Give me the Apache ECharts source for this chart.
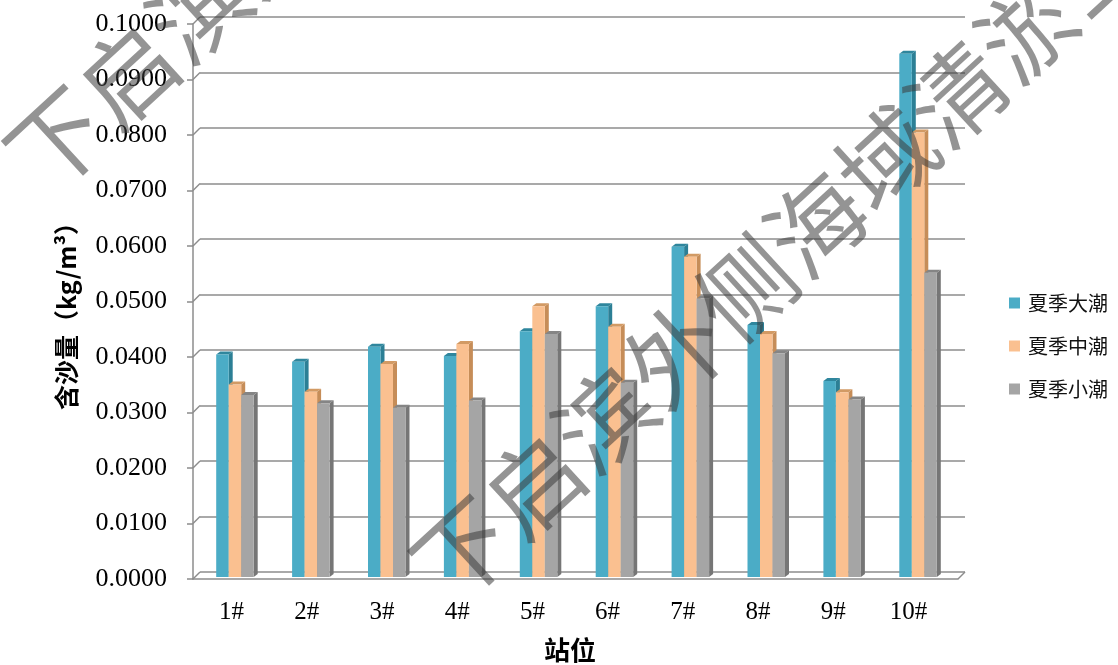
<!DOCTYPE html>
<html>
<head>
<meta charset="utf-8">
<script src="https://cdn.jsdelivr.net/npm/echarts@6/dist/echarts.min.js"></script>
<style>
  html, body { margin: 0; padding: 0; background: #ffffff; }
  #chart { width: 1118px; height: 665px; }
</style>
</head>
<body>
<div id="chart"></div>
<script>
// Stations and suspended sediment concentration (kg/m³) per tide
const stations = ['1#', '2#', '3#', '4#', '5#', '6#', '7#', '8#', '9#', '10#'];
const seriesNames = ['夏季大潮', '夏季中潮', '夏季小潮'];
const springTide = [0.0401, 0.0388, 0.0415, 0.0398, 0.0443, 0.0488, 0.0595, 0.0454, 0.0353, 0.0943];
const middleTide = [0.0347, 0.0334, 0.0384, 0.0420, 0.0488, 0.0451, 0.0577, 0.0438, 0.0333, 0.0801];
const neapTide   = [0.0328, 0.0313, 0.0305, 0.0318, 0.0438, 0.0350, 0.0502, 0.0403, 0.0320, 0.0548];
const yTicks = [0, 0.01, 0.02, 0.03, 0.04, 0.05, 0.06, 0.07, 0.08, 0.09, 0.1];

const frontColors = ['#4BACC6', '#FAC090', '#A5A5A5'];
const sideColors  = ['#2C7F95', '#C68D58', '#767676'];
const topColors   = ['#2F869D', '#D29A64', '#858585'];

const BAR_W = 12.5;   // front face width of one column
const DEPTH_X = 4;    // column depth offset
const DEPTH_Y = 3;
const WALL_X = 7;     // wall/floor depth offset
const WALL_Y = 7;

const serifFont = '"Liberation Serif", "Times New Roman", serif';
const cjkFont = '"Noto Sans CJK SC", "Noto Sans", sans-serif';

function columnRenderer(k) {
  return function (params, api) {
    const idx = api.value(0);
    const val = api.value(1);
    const topPt = api.coord([idx, val]);
    const basePt = api.coord([idx, 0]);
    const x0 = topPt[0] + (k - 1.5) * BAR_W;
    const yT = topPt[1];
    const yB = basePt[1];
    return {
      type: 'group',
      children: [
        {
          type: 'polygon',
          shape: { points: [[x0 + BAR_W, yT], [x0 + BAR_W + DEPTH_X, yT - DEPTH_Y], [x0 + BAR_W + DEPTH_X, yB - DEPTH_Y], [x0 + BAR_W, yB]] },
          style: { fill: sideColors[k] }
        },
        {
          type: 'polygon',
          shape: { points: [[x0, yT], [x0 + BAR_W, yT], [x0 + BAR_W + DEPTH_X, yT - DEPTH_Y], [x0 + DEPTH_X, yT - DEPTH_Y]] },
          style: { fill: topColors[k] }
        },
        {
          type: 'rect',
          shape: { x: x0, y: yT, width: BAR_W, height: yB - yT },
          style: { fill: frontColors[k] }
        }
      ]
    };
  };
}

// Short slanted edges joining the front axis ticks to the back-wall gridlines
function wallRenderer(params, api) {
  const v = api.value(0);
  const p = api.coord([0, v]);
  const x = params.coordSys.x;
  const children = [{
    type: 'line',
    shape: { x1: x, y1: p[1], x2: x + WALL_X, y2: p[1] - WALL_Y },
    style: { stroke: '#8c8c8c', lineWidth: 1.5 }
  }];
  if (v === 0) {
    const xr = params.coordSys.x + params.coordSys.width;
    children.push({
      type: 'line',
      shape: { x1: xr, y1: p[1], x2: xr + WALL_X, y2: p[1] - WALL_Y },
      style: { stroke: '#8c8c8c', lineWidth: 1.5 }
    });
  }
  return { type: 'group', children: children };
}

const chart = echarts.init(document.getElementById('chart'), null, { renderer: 'canvas' });

const option = {
  animation: false,
  color: frontColors,
  grid: [
    { left: 197, top: 22, width: 759, height: 555 },   // columns
    { left: 193, top: 24, width: 765, height: 555 },   // front axis lines
    { left: 200, top: 17, width: 765, height: 555 },   // back wall gridlines
    { left: 194, top: 24, width: 752, height: 555 }    // category labels
  ],
  xAxis: [
    { gridIndex: 0, type: 'category', data: stations, show: false },
    {
      gridIndex: 1, type: 'category', data: stations,
      axisLine: { show: true, lineStyle: { color: '#8c8c8c', width: 1.5 } },
      axisTick: { show: false }, axisLabel: { show: false }, splitLine: { show: false }
    },
    { gridIndex: 2, type: 'category', data: stations, show: false },
    {
      gridIndex: 3, type: 'category', data: stations,
      axisLine: { show: false }, axisTick: { show: false }, splitLine: { show: false },
      axisLabel: { margin: 21, color: '#000', fontFamily: serifFont, fontSize: 25 }
    }
  ],
  yAxis: [
    { gridIndex: 0, type: 'value', min: 0, max: 0.1, interval: 0.01, show: false },
    {
      gridIndex: 1, type: 'value', min: 0, max: 0.1, interval: 0.01,
      axisLine: { show: true, lineStyle: { color: '#8c8c8c', width: 1.5 } },
      axisTick: { show: true, length: 6, lineStyle: { color: '#8c8c8c', width: 1.5 } },
      splitLine: { show: false },
      axisLabel: {
        margin: 26, color: '#000', fontFamily: serifFont, fontSize: 26,
        formatter: function (v) { return v.toFixed(4); }
      }
    },
    {
      gridIndex: 2, type: 'value', min: 0, max: 0.1, interval: 0.01,
      axisLine: { show: false }, axisTick: { show: false }, axisLabel: { show: false },
      splitLine: { show: true, lineStyle: { color: '#8c8c8c', width: 1.6 } }
    },
    { gridIndex: 3, type: 'value', min: 0, max: 0.1, show: false }
  ],
  legend: {
    orient: 'vertical',
    left: 1004,
    top: 288,
    itemWidth: 11,
    itemHeight: 11,
    itemGap: 23,
    icon: 'rect',
    data: seriesNames,
    textStyle: { fontFamily: cjkFont, fontSize: 20, lineHeight: 20, color: '#111', padding: [0, 0, 0, 3] }
  },
  series: [
    {
      type: 'custom', name: 'wall', xAxisIndex: 1, yAxisIndex: 1, silent: true,
      data: yTicks.map(function (t) { return [t]; }),
      encode: { y: 0 },
      renderItem: wallRenderer
    },
    {
      type: 'custom', name: seriesNames[0], xAxisIndex: 0, yAxisIndex: 0,
      itemStyle: { color: frontColors[0] },
      data: springTide.map(function (v, i) { return [i, v]; }),
      encode: { x: 0, y: 1 },
      renderItem: columnRenderer(0)
    },
    {
      type: 'custom', name: seriesNames[1], xAxisIndex: 0, yAxisIndex: 0,
      itemStyle: { color: frontColors[1] },
      data: middleTide.map(function (v, i) { return [i, v]; }),
      encode: { x: 0, y: 1 },
      renderItem: columnRenderer(1)
    },
    {
      type: 'custom', name: seriesNames[2], xAxisIndex: 0, yAxisIndex: 0,
      itemStyle: { color: frontColors[2] },
      data: neapTide.map(function (v, i) { return [i, v]; }),
      encode: { x: 0, y: 1 },
      renderItem: columnRenderer(2)
    }
  ],
  graphic: [
    {
      type: 'text', z: 10,
      x: 570, y: 650,
      style: {
        text: '站位', align: 'center', verticalAlign: 'middle',
        font: 'bold 26px ' + cjkFont, fill: '#000'
      }
    },
    {
      type: 'text', z: 10,
      x: 66, y: 310, rotation: Math.PI / 2,
      style: {
        text: '含沙量（kg/m³）', align: 'center', verticalAlign: 'middle',
        font: 'bold 25px ' + cjkFont, fill: '#000'
      }
    },
    // diagonal watermark
    {
      type: 'text', z: 100, silent: true,
      x: 428, y: 582, rotation: 0.745,
      style: {
        text: '下启滨外侧海域清淤工程', align: 'left', verticalAlign: 'middle',
        font: '96px ' + cjkFont, fill: 'rgba(60,60,60,0.55)'
      }
    },
    {
      type: 'text', z: 100, silent: true,
      x: 22, y: 172, rotation: 0.745,
      style: {
        text: '下启滨外侧海域清淤工程', align: 'left', verticalAlign: 'middle',
        font: '96px ' + cjkFont, fill: 'rgba(60,60,60,0.55)'
      }
    }
  ]
};

chart.setOption(option);
</script>
</body>
</html>
